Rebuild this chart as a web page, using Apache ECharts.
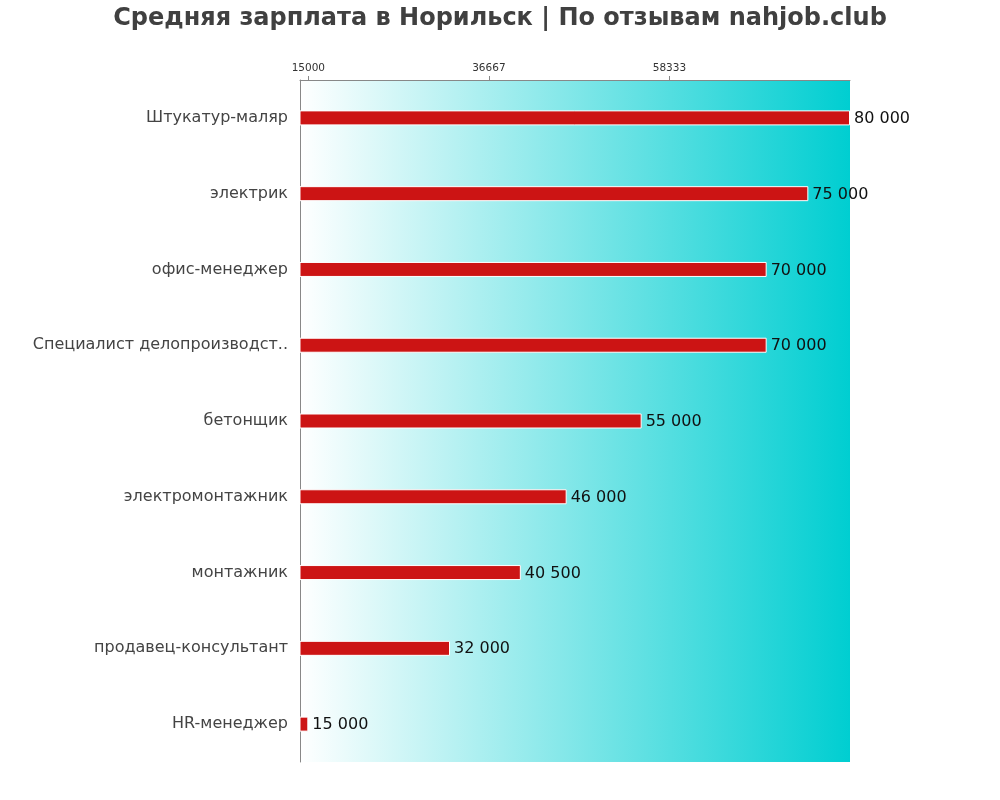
<!DOCTYPE html>
<html>
<head>
<meta charset="utf-8">
<script src="https://cdn.jsdelivr.net/npm/echarts@6/dist/echarts.min.js"></script>
<style>html,body{margin:0;padding:0;background:#fff}#c{width:1000px;height:800px}</style>
</head>
<body>
<div id="c"></div>
<script>
const titleText = 'Средняя зарплата в Норильск | По отзывам nahjob.club';
const categories = ['Штукатур-маляр','электрик','офис-менеджер','Специалист делопроизводст..','бетонщик','электромонтажник','монтажник','продавец-консультант','HR-менеджер'];
const values = [80000,75000,70000,70000,55000,46000,40500,32000,15000];
const tickValues = [15000,36667,58333];
const FONT = 'DejaVu Sans';

const chart = echarts.init(document.getElementById('c'));
chart.setOption({
  animation: false,
  title: {
    text: titleText, left: 'center', top: 2,
    textStyle: {fontFamily: FONT, fontWeight: 'bold', fontSize: 24, color: '#404040'}
  },
  grid: {
    left: 300, right: 150, top: 80, bottom: 38, show: true, borderWidth: 0,
    backgroundColor: new echarts.graphic.LinearGradient(0,0,1,0,[{offset:0,color:'#ffffff'},{offset:1,color:'#00CED1'}])
  },
  xAxis: {
    type: 'value', position: 'top', min: 14000, max: 80000,
    axisLine: {show: true, lineStyle: {color: '#888'}},
    axisTick: {show: true, customValues: tickValues, length: 4, lineStyle: {color: '#888'}},
    axisLabel: {customValues: tickValues, fontFamily: FONT, fontSize: 10.5, color: '#333', margin: 6, formatter: v => String(v)},
    splitLine: {show: false}
  },
  yAxis: {
    type: 'category', inverse: true, data: categories,
    axisLine: {show: true, lineStyle: {color: '#888'}},
    axisTick: {show: false},
    axisLabel: {fontFamily: FONT, fontSize: 16, color: '#444', margin: 12}
  },
  series: [{
    type: 'bar', data: values, barWidth: 15,
    itemStyle: {color: '#CC1414', borderColor: '#fff', borderWidth: 1},
    label: {show: true, position: 'right', distance: 4, fontFamily: FONT, fontSize: 16, color: '#111', offset: [0, 1],
      formatter: p => String(p.value).replace(/\B(?=(\d{3})+(?!\d))/g, ' ')}
  }]
});
</script>
</body>
</html>
